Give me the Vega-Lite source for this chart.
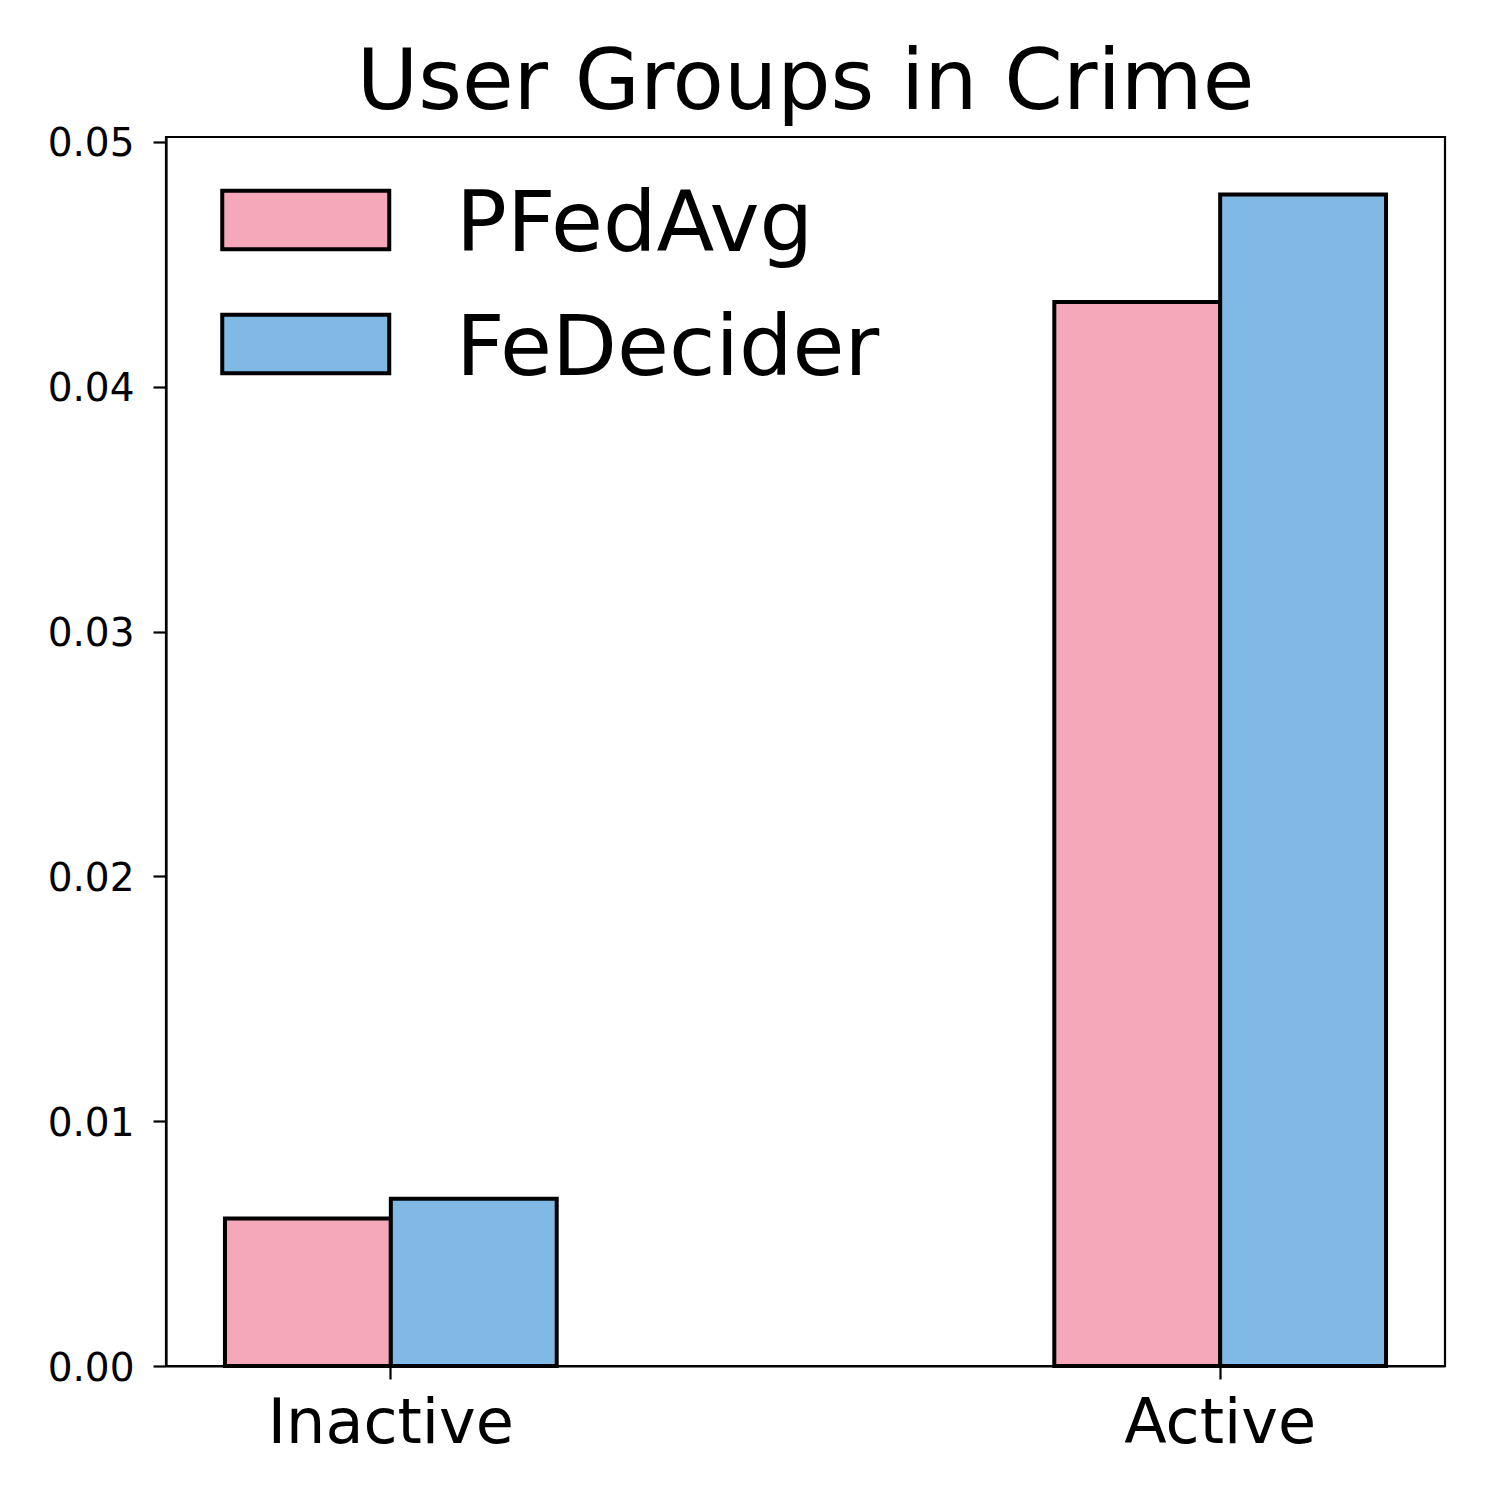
{
  "$schema": "https://vega.github.io/schema/vega-lite/v6.json",
  "width": 1279,
  "height": 1229,
  "autosize": {"type": "none"},
  "padding": {"left": 166, "top": 137, "right": 55, "bottom": 134},
  "background": "white",
  "title": {
    "text": "User Groups in Crime",
    "fontSize": 84,
    "font": "DejaVu Sans",
    "fontWeight": "normal",
    "color": "black",
    "frame": "group",
    "anchor": "middle",
    "baseline": "alphabetic",
    "offset": 26,
    "dy": 94
  },
  "data": {
    "values": [
      {"group": "Inactive", "method": "PFedAvg", "value": 0.00602},
      {"group": "Inactive", "method": "FeDecider", "value": 0.00683},
      {"group": "Active", "method": "PFedAvg", "value": 0.04346},
      {"group": "Active", "method": "FeDecider", "value": 0.04785}
    ]
  },
  "mark": {"type": "bar", "stroke": "black", "strokeWidth": 4, "opacity": 1},
  "encoding": {
    "x": {
      "field": "group",
      "type": "nominal",
      "sort": ["Inactive", "Active"],
      "scale": {"paddingInner": 0.6, "paddingOuter": 0.0711},
      "axis": {
        "title": null,
        "labelAngle": 0,
        "labelFont": "DejaVu Sans",
        "labelFontSize": 62,
        "labelColor": "black",
        "labelPadding": 14,
        "labelLimit": 0,
        "tickSize": 13,
        "tickWidth": 2.2,
        "tickColor": "black",
        "domainColor": "black",
        "domainWidth": 2.2,
        "grid": false
      }
    },
    "xOffset": {
      "field": "method",
      "type": "nominal",
      "sort": ["PFedAvg", "FeDecider"],
      "scale": {"paddingInner": 0, "paddingOuter": 0}
    },
    "y": {
      "field": "value",
      "type": "quantitative",
      "scale": {"domain": [0, 0.0502], "nice": false, "zero": true},
      "axis": {
        "title": null,
        "values": [0, 0.01, 0.02, 0.03, 0.04, 0.05],
        "format": ".2f",
        "labelFont": "DejaVu Sans",
        "labelFontSize": 39,
        "labelColor": "black",
        "labelBaseline": "alphabetic",
        "labelOffset": 14,
        "labelPadding": 19,
        "tickSize": 13,
        "tickWidth": 2.2,
        "tickColor": "black",
        "domainColor": "black",
        "domainWidth": 2.2,
        "grid": false
      }
    },
    "color": {
      "field": "method",
      "type": "nominal",
      "sort": ["PFedAvg", "FeDecider"],
      "scale": {"range": ["#F4A8B9", "#80B9E5"]},
      "legend": {
        "title": null,
        "orient": "none",
        "legendX": 54,
        "legendY": 39,
        "padding": 0,
        "symbolType": "M-1,-0.7H3V0.7H-1Z",
        "symbolSize": 6972,
        "symbolStrokeColor": "black",
        "symbolStrokeWidth": 4,
        "symbolOpacity": 1,
        "labelFont": "DejaVu Sans",
        "labelFontSize": 84.5,
        "labelColor": "black",
        "labelOffset": 148,
        "labelLimit": 0,
        "rowPadding": 32,
        "encode": {"labels": {"update": {"dy": {"value": 6}}}}
      }
    }
  },
  "config": {
    "view": {"stroke": "black", "strokeWidth": 2.2},
    "font": "DejaVu Sans"
  }
}
